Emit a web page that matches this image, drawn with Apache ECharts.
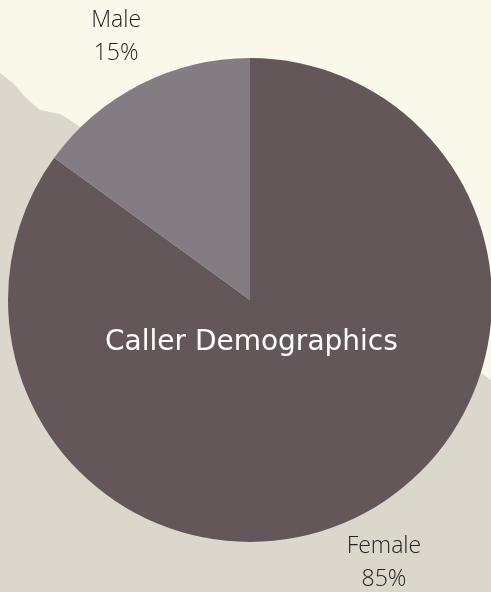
<!DOCTYPE html>
<html>
<head>
<meta charset="utf-8">
<script src="https://cdn.jsdelivr.net/npm/echarts@6/dist/echarts.min.js"></script>
<style>
html,body{margin:0;padding:0;width:491px;height:592px;overflow:hidden;}
body{
  background-color:#dbd7cd;
  background-image:url("data:image/svg+xml;utf8,<svg xmlns='http://www.w3.org/2000/svg' width='491' height='592'><rect width='491' height='592' fill='%23dbd7cd'/><polygon points='0,0 491,0 491,380 420,330 300,200 86,130 80,127 70,120 60,114 40,110 25,97 13,83 0,73' fill='%23faf7eb'/></svg>");
  background-repeat:no-repeat;
}
#chart{width:491px;height:592px;}
</style>
</head>
<body>
<div id="chart"></div>
<script>
var titleText = 'Caller Demographics';
var categories = ['Female', 'Male'];
var values = [85, 15];
var colors = ['#635759', '#837d83'];

var chart = echarts.init(document.getElementById('chart'), null, {renderer: 'canvas'});
chart.setOption({
  animation: false,
  backgroundColor: 'transparent',
  title: {
    text: titleText,
    left: 105,
    top: 329,
    padding: 0,
    textStyle: {color: '#ffffff', fontFamily: 'DejaVu Sans', fontWeight: 'normal', fontSize: 28}
  },
  series: [{
    type: 'pie',
    center: [250, 300],
    radius: [0, 242],
    startAngle: 90,
    clockwise: true,
    silent: true,
    data: categories.map(function (c, i) {
      return {name: c, value: values[i], itemStyle: {color: colors[i]}};
    }),
    label: {
      show: true,
      position: 'outside',
      formatter: '{b}\n{d}%',
      color: '#222222',
      fontFamily: 'Open Sans',
      fontWeight: 300,
      fontSize: 23,
      lineHeight: 33,
      align: 'center'
    },
    labelLine: {show: false, length: 53, length2: 0},
    labelLayout: function (params) {
      var p = params.labelLinePoints;
      var end = p[p.length - 1];
      return {x: end[0], y: end[1], align: 'center', verticalAlign: 'middle'};
    }
  }]
});
</script>
</body>
</html>
